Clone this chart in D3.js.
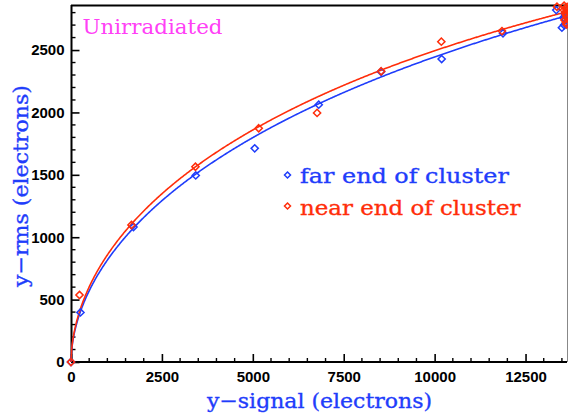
<!DOCTYPE html>
<html>
<head>
<meta charset="utf-8">
<script src="https://cdn.jsdelivr.net/npm/d3@7"></script>
<style>
  html, body { margin: 0; padding: 0; background: #fff; }
  svg { display: block; }
</style>
</head>
<body>
<svg id="chart" width="568" height="420"></svg>
<script>
// Cluster width (y-rms) versus signal, unirradiated sensor
const farX  = [0, 260, 1718, 3430, 5052, 6812, 8527, 10193, 11880,
               13345, 13500, 13560, 13600, 13630, 13580, 13620, 13540, 13610];
const farY  = [0, 397, 1082, 1495, 1712, 2062, 2326, 2428, 2634,
               2820, 2679, 2700, 2745, 2770, 2790, 2720, 2760, 2800];
const nearX = [0, 234, 1663, 3422, 5162, 6767, 8530, 10184, 11852,
               13364, 13560, 13600, 13630, 13590, 13620, 13640, 13570, 13610, 13630, 13550, 13645, 13600];
const nearY = [0, 537, 1098, 1565, 1873, 1996, 2330, 2567, 2652,
               2847, 2855, 2835, 2815, 2795, 2775, 2755, 2740, 2720, 2705, 2820, 2845, 2790];

// Fitted model y = a * x^b - k * x for each end of the cluster
const farFit  = { a: 19.854, b: 0.55, k: 0.07019 };
const nearFit = { a: 21.113, b: 0.55, k: 0.08521 };

const xMajor = [0, 2500, 5000, 7500, 10000, 12500];
const yMajor = [0, 500, 1000, 1500, 2000, 2500];

const seriesNames = ["far end of cluster", "near end of cluster"];
const BLUE = "#1f3dfb", RED = "#ff2d0a", MAGENTA = "#ff40f6";
const SERIF = "DejaVu Serif, Liberation Serif, serif";

const svg = d3.select("#chart");
const x = d3.scaleLinear().domain([0, 13640]).range([71, 567]);
const y = d3.scaleLinear().domain([0, 2857]).range([362, 5.5]);

// frame
const g = svg.append("g");
g.append("line").attr("x1", 71).attr("x2", 567).attr("y1", 5.5).attr("y2", 5.5)
  .attr("stroke", "#000").attr("stroke-width", 2);
g.append("line").attr("x1", 567.5).attr("x2", 567.5).attr("y1", 5).attr("y2", 362)
  .attr("stroke", "#888").attr("stroke-width", 1);

// bottom axis with inward ticks
const xAxis = d3.axisBottom(x).tickValues(xMajor).tickSize(-8).tickPadding(9)
  .tickFormat(d3.format("d"));
const gx = svg.append("g").attr("transform", "translate(0,362)").call(xAxis);
gx.select(".domain").attr("stroke-width", 2).attr("d", "M71,0H567");
gx.selectAll(".tick line").attr("stroke-width", 1.6);
gx.selectAll(".tick text").attr("font-family", "Liberation Sans, Arial, sans-serif")
  .attr("font-weight", "bold").attr("font-size", 15).attr("fill", "#000").attr("dy", "0.71em");
const xMinor = d3.range(0, 13600, 500).filter(v => v % 2500 !== 0);
svg.append("g").selectAll("line").data(xMinor).join("line")
  .attr("x1", d => x(d)).attr("x2", d => x(d)).attr("y1", 362).attr("y2", 358)
  .attr("stroke", "#000").attr("stroke-width", 1.4);

// left axis with inward ticks
const yAxis = d3.axisLeft(y).tickValues(yMajor).tickSize(-8).tickPadding(7)
  .tickFormat(d3.format("d"));
const gy = svg.append("g").attr("transform", "translate(71.5,0)").call(yAxis);
gy.select(".domain").attr("stroke-width", 2).attr("d", "M0,5H0V362");
gy.selectAll(".tick line").attr("stroke-width", 1.6);
gy.selectAll(".tick text").attr("font-family", "Liberation Sans, Arial, sans-serif")
  .attr("font-weight", "bold").attr("font-size", 15).attr("fill", "#000");
const yMinor = d3.range(0, 2900, 100).filter(v => v % 500 !== 0);
svg.append("g").selectAll("line").data(yMinor).join("line")
  .attr("x1", 71.5).attr("x2", 75.5).attr("y1", d => y(d)).attr("y2", d => y(d))
  .attr("stroke", "#000").attr("stroke-width", 1.4);

// fit curves
const samples = d3.range(0, 13641, 20);
const line = d3.line().x(d => x(d[0])).y(d => y(d[1]));
function curve(fit) { return samples.map(v => [v, fit.a * Math.pow(v, fit.b) - fit.k * v]); }
svg.append("path").datum(curve(farFit)).attr("d", line)
  .attr("fill", "none").attr("stroke", BLUE).attr("stroke-width", 1.6);
svg.append("path").datum(curve(nearFit)).attr("d", line)
  .attr("fill", "none").attr("stroke", RED).attr("stroke-width", 1.6);

// diamond markers
function diamond(r) { return `M0,${-r}L${r},0L0,${r}L${-r},0Z`; }
function drawPoints(xs, ys, color) {
  svg.append("g").selectAll("path").data(xs.map((v, i) => [v, ys[i]])).join("path")
    .attr("transform", d => `translate(${x(d[0])},${y(d[1])})`)
    .attr("d", diamond(3.6)).attr("fill", "none")
    .attr("stroke", color).attr("stroke-width", 1.5);
}
drawPoints(farX, farY, BLUE);
drawPoints(nearX, nearY, RED);

// legend
const legend = svg.append("g");
[[BLUE, 175, 183], [RED, 206, 215]].forEach(([c, cy, by], i) => {
  legend.append("path").attr("transform", `translate(287.5,${cy})`)
    .attr("d", diamond(3)).attr("fill", "none").attr("stroke", c).attr("stroke-width", 1.5);
  legend.append("text").attr("x", 300).attr("y", by).text(seriesNames[i])
    .attr("fill", c).attr("font-family", SERIF)
    .attr("font-size", 19.5).attr("stroke", c).attr("stroke-width", 0.35)
    .attr("textLength", seriesNames[i].length * 11.6).attr("lengthAdjust", "spacingAndGlyphs");
});

// annotation
svg.append("text").attr("x", 82.5).attr("y", 33.5).text("Unirradiated")
  .attr("fill", MAGENTA).attr("font-family", SERIF)
  .attr("font-size", 20).attr("textLength", 140).attr("lengthAdjust", "spacingAndGlyphs");

// axis titles
svg.append("text").attr("x", 207).attr("y", 408).text("y\u2212signal (electrons)")
  .attr("fill", BLUE).attr("font-family", SERIF)
  .attr("font-size", 21).attr("stroke", BLUE).attr("stroke-width", 0.35)
  .attr("textLength", 225).attr("lengthAdjust", "spacingAndGlyphs");
svg.append("text").attr("transform", "translate(28,287) rotate(-90)").text("y\u2212rms (electrons)")
  .attr("fill", BLUE).attr("font-family", SERIF)
  .attr("font-size", 21).attr("stroke", BLUE).attr("stroke-width", 0.35)
  .attr("textLength", 202).attr("lengthAdjust", "spacingAndGlyphs");
</script>
</body>
</html>
